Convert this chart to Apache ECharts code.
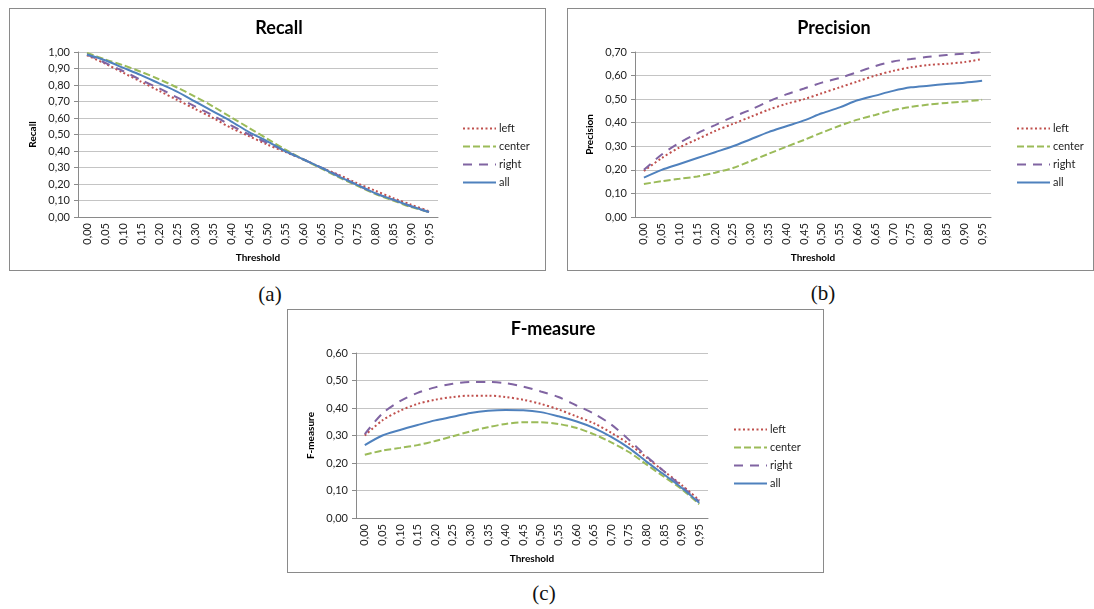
<!DOCTYPE html>
<html>
<head>
<meta charset="utf-8">
<title>Recall / Precision / F-measure</title>
<script src="https://cdn.jsdelivr.net/npm/echarts@6/dist/echarts.min.js"></script>
<style>
  html, body { margin: 0; padding: 0; background: #fff; }
  body { position: relative; width: 1094px; height: 609px; overflow: hidden; }
  .box { position: absolute; box-sizing: border-box; border: 1px solid #8a8a8a; background: #fff; }
  .caption { position: absolute; font-family: "Liberation Serif", "DejaVu Serif", serif; font-size: 21px; color: #111; transform: translate(-50%, -50%); }
</style>
</head>
<body>
<div id="chartA" class="box" style="left:9px;top:8px;width:537px;height:263px;"></div>
<div id="chartB" class="box" style="left:567px;top:8px;width:527px;height:263px;"></div>
<div id="chartC" class="box" style="left:287px;top:309px;width:537px;height:264px;"></div>
<div class="caption" style="left:270px;top:294px;">(a)</div>
<div class="caption" style="left:823px;top:293px;">(b)</div>
<div class="caption" style="left:544px;top:593px;">(c)</div>
<script>
// 阈值（横轴类别）
const thresholds = ['0,00', '0,05', '0,10', '0,15', '0,20', '0,25', '0,30', '0,35', '0,40', '0,45',
  '0,50', '0,55', '0,60', '0,65', '0,70', '0,75', '0,80', '0,85', '0,90', '0,95'];

const seriesNames = ['left', 'center', 'right', 'all'];

// (a) Recall
const recallLeft   = [0.98, 0.93, 0.875, 0.82, 0.765, 0.71, 0.655, 0.60, 0.54, 0.49, 0.44, 0.395, 0.35, 0.30, 0.255, 0.205, 0.16, 0.115, 0.075, 0.035];
const recallCenter = [0.995, 0.955, 0.92, 0.88, 0.835, 0.785, 0.73, 0.67, 0.605, 0.54, 0.475, 0.41, 0.35, 0.295, 0.24, 0.19, 0.14, 0.10, 0.06, 0.03];
const recallRight  = [0.985, 0.935, 0.885, 0.83, 0.78, 0.725, 0.67, 0.615, 0.555, 0.50, 0.45, 0.40, 0.35, 0.30, 0.25, 0.195, 0.145, 0.105, 0.065, 0.03];
const recallAll    = [0.985, 0.95, 0.905, 0.86, 0.81, 0.76, 0.70, 0.64, 0.58, 0.515, 0.46, 0.40, 0.35, 0.30, 0.245, 0.195, 0.145, 0.105, 0.065, 0.03];

// (b) Precision
const precisionLeft   = [0.195, 0.25, 0.295, 0.33, 0.365, 0.395, 0.425, 0.455, 0.48, 0.50, 0.525, 0.55, 0.575, 0.60, 0.62, 0.635, 0.645, 0.65, 0.657, 0.67];
const precisionCenter = [0.14, 0.152, 0.162, 0.172, 0.188, 0.208, 0.237, 0.268, 0.298, 0.327, 0.358, 0.387, 0.413, 0.433, 0.453, 0.467, 0.477, 0.484, 0.49, 0.497];
const precisionRight  = [0.20, 0.265, 0.315, 0.355, 0.39, 0.425, 0.455, 0.49, 0.52, 0.545, 0.57, 0.59, 0.615, 0.64, 0.66, 0.67, 0.68, 0.687, 0.693, 0.70];
const precisionAll    = [0.167, 0.20, 0.225, 0.25, 0.275, 0.30, 0.33, 0.36, 0.385, 0.41, 0.44, 0.465, 0.495, 0.515, 0.535, 0.55, 0.557, 0.564, 0.57, 0.578];

// (c) F-measure
const fLeft   = [0.30, 0.355, 0.39, 0.415, 0.43, 0.44, 0.445, 0.445, 0.44, 0.43, 0.415, 0.395, 0.37, 0.345, 0.31, 0.27, 0.22, 0.17, 0.12, 0.065];
const fCenter = [0.23, 0.245, 0.255, 0.265, 0.28, 0.297, 0.315, 0.33, 0.342, 0.348, 0.348, 0.342, 0.328, 0.305, 0.275, 0.24, 0.195, 0.15, 0.105, 0.05];
const fRight  = [0.305, 0.38, 0.425, 0.455, 0.475, 0.488, 0.495, 0.495, 0.49, 0.478, 0.46, 0.44, 0.41, 0.38, 0.34, 0.285, 0.225, 0.17, 0.115, 0.06];
const fAll    = [0.265, 0.30, 0.32, 0.338, 0.355, 0.368, 0.382, 0.39, 0.393, 0.392, 0.385, 0.37, 0.352, 0.328, 0.295, 0.255, 0.205, 0.158, 0.11, 0.055];

// 线型：颜色 + 虚线样式（Excel 默认配色）
const LINE_STYLES = {
  left:   { color: '#c0504d', type: [2, 2.5] },
  center: { color: '#9bbb59', type: [7, 3] },
  right:  { color: '#8064a2', type: [9, 7] },
  all:    { color: '#4f81bd', type: 'solid' },
};

const FONT = 'Lato, "Open Sans", "Liberation Sans", sans-serif';
const fmt = (v) => v.toFixed(2).replace('.', ',');

/**
 * 构建单个折线图配置
 * @param {object} cfg
 */
function buildOption(cfg) {
  return {
    animation: false,
    backgroundColor: '#fff',
    title: {
      text: cfg.title,
      left: cfg.titleX,
      top: 5,
      textAlign: 'center',
      textStyle: { fontFamily: FONT, fontSize: 18, fontWeight: 'bold', color: '#000' },
    },
    legend: {
      orient: 'vertical',
      left: cfg.legendX,
      top: 109,
      itemWidth: 33,
      itemHeight: 12,
      itemGap: 7,
      data: seriesNames,
      // 图例只显示线段，隐藏默认圆点
      itemStyle: { opacity: 0, borderWidth: 0 },
      textStyle: { fontFamily: FONT, fontSize: 11, color: '#222', padding: [0, 0, 0, -2] },
    },
    grid: { left: cfg.gridLeft, top: 43, width: cfg.gridWidth, height: 165 },
    xAxis: {
      type: 'category',
      data: thresholds,
      boundaryGap: true,
      name: 'Threshold',
      nameLocation: 'middle',
      nameGap: 34,
      nameTextStyle: { fontFamily: FONT, fontSize: 10, fontWeight: 'bold', color: '#000' },
      axisLine: { lineStyle: { color: '#8a8a8a' } },
      axisTick: { show: false },
      axisLabel: { rotate: 90, margin: 6, fontFamily: FONT, fontSize: 11, color: '#222' },
    },
    yAxis: {
      type: 'value',
      min: 0,
      max: cfg.yMax,
      interval: 0.1,
      name: cfg.title,
      nameLocation: 'middle',
      nameGap: 40,
      nameTextStyle: { fontFamily: FONT, fontSize: 10, fontWeight: 'bold', color: '#000' },
      axisLine: { show: true, lineStyle: { color: '#8a8a8a' } },
      axisTick: { show: true, length: 4, lineStyle: { color: '#8a8a8a' } },
      axisLabel: { margin: 8, fontFamily: FONT, fontSize: 11, color: '#222', formatter: fmt },
      splitLine: { lineStyle: { color: '#c4c4c4' } },
    },
    series: seriesNames.map((name, i) => ({
      name,
      type: 'line',
      data: cfg.data[i],
      smooth: 0.3,
      symbol: 'none',
      lineStyle: { width: 2, color: LINE_STYLES[name].color, type: LINE_STYLES[name].type },
      itemStyle: { color: LINE_STYLES[name].color },
    })),
  };
}

const charts = [
  { el: 'chartA', title: 'Recall', titleX: 264, legendX: 447, gridLeft: 68, gridWidth: 360, yMax: 1.0,
    data: [recallLeft, recallCenter, recallRight, recallAll] },
  { el: 'chartB', title: 'Precision', titleX: 261, legendX: 443, gridLeft: 67, gridWidth: 356, yMax: 0.7,
    data: [precisionLeft, precisionCenter, precisionRight, precisionAll] },
  { el: 'chartC', title: 'F-measure', titleX: 260, legendX: 440, gridLeft: 68, gridWidth: 352, yMax: 0.6,
    data: [fLeft, fCenter, fRight, fAll] },
];

charts.forEach((cfg) => {
  const chart = echarts.init(document.getElementById(cfg.el));
  chart.setOption(buildOption(cfg));
});
</script>
</body>
</html>
